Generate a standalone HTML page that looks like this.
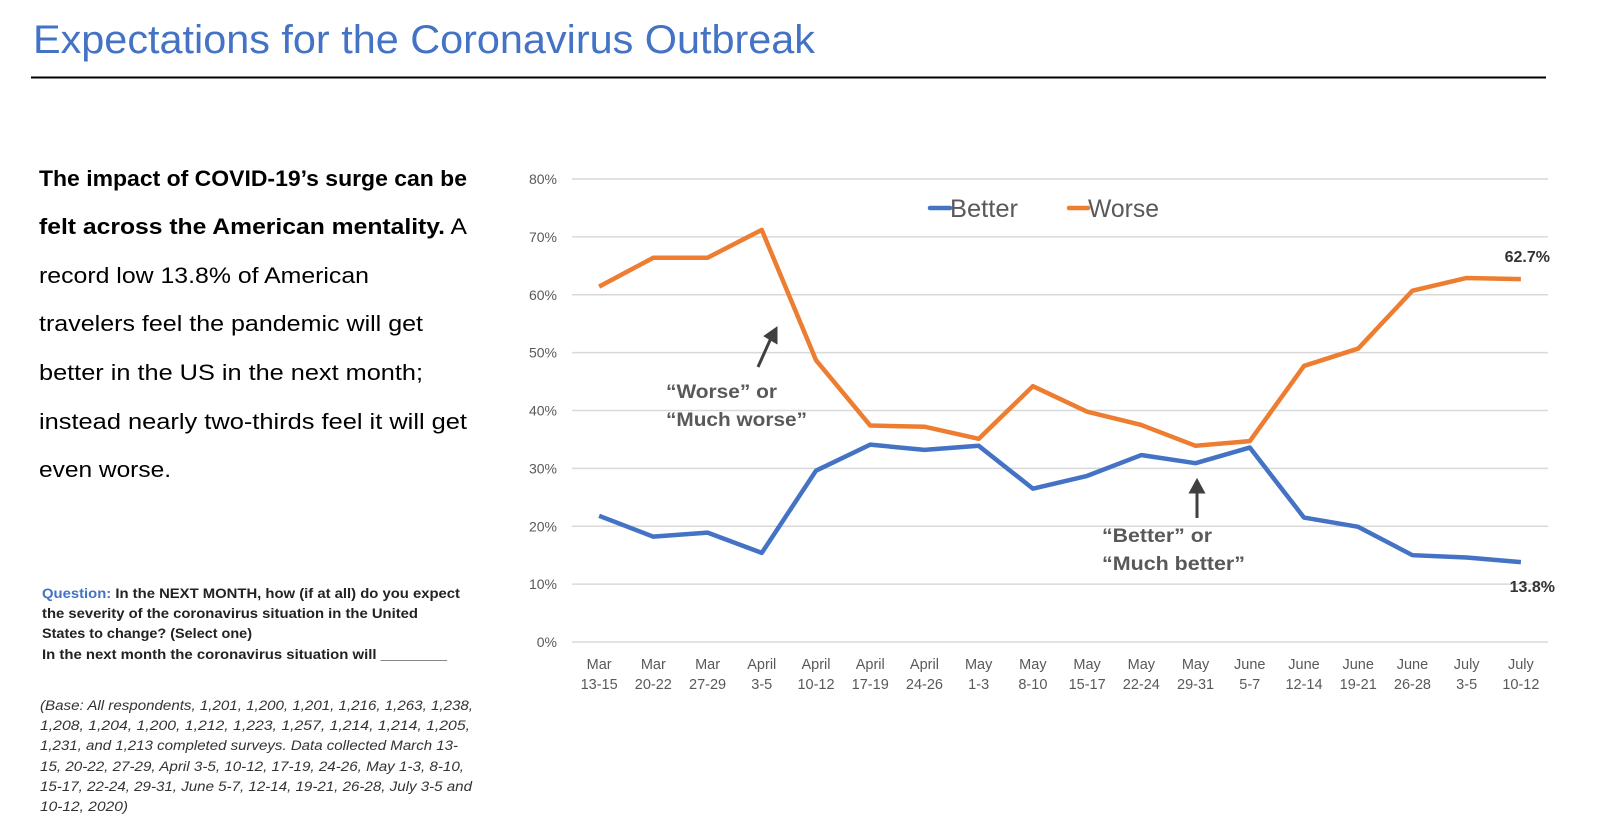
<!DOCTYPE html>
<html><head><meta charset="utf-8"><style>
html,body{margin:0;padding:0;background:#fff;}
svg{display:block;font-family:"Liberation Sans",Calibri,sans-serif;}
</style></head><body>
<svg id="pg" width="1600" height="833" viewBox="0 0 1600 833" xmlns="http://www.w3.org/2000/svg">
<text x="33" y="53" font-size="40" fill="#4472C4" textLength="782" lengthAdjust="spacingAndGlyphs">Expectations for the Coronavirus Outbreak</text>
<line x1="31" y1="77.5" x2="1546" y2="77.5" stroke="#000" stroke-width="2"/>
<g font-size="22" fill="#000">
<text x="39" y="186" font-weight="bold" textLength="428" lengthAdjust="spacingAndGlyphs">The impact of COVID-19’s surge can be</text>
<text x="39" y="234" textLength="428" lengthAdjust="spacingAndGlyphs"><tspan font-weight="bold">felt across the American mentality.</tspan> A</text>
<text x="39" y="283" textLength="330" lengthAdjust="spacingAndGlyphs">record low 13.8% of American</text>
<text x="39" y="331" textLength="384" lengthAdjust="spacingAndGlyphs">travelers feel the pandemic will get</text>
<text x="39" y="380" textLength="384" lengthAdjust="spacingAndGlyphs">better in the US in the next month;</text>
<text x="39" y="429" textLength="428" lengthAdjust="spacingAndGlyphs">instead nearly two-thirds feel it will get</text>
<text x="39" y="477" textLength="132" lengthAdjust="spacingAndGlyphs">even worse.</text>
</g>
<g font-size="14" font-weight="bold" fill="#222">
<text x="42" y="598" textLength="418" lengthAdjust="spacingAndGlyphs"><tspan fill="#4472C4">Question:</tspan> In the NEXT MONTH, how (if at all) do you expect</text>
<text x="42" y="618" textLength="376" lengthAdjust="spacingAndGlyphs">the severity of the coronavirus situation in the United</text>
<text x="42" y="638" textLength="210" lengthAdjust="spacingAndGlyphs">States to change? (Select one)</text>
<text x="42" y="659" textLength="405" lengthAdjust="spacingAndGlyphs">In the next month the coronavirus situation will ________</text>
</g>
<g font-size="13.5" font-style="italic" fill="#333">
<text x="40" y="710" textLength="433" lengthAdjust="spacingAndGlyphs">(Base: All respondents, 1,201, 1,200, 1,201, 1,216, 1,263, 1,238,</text>
<text x="40" y="730" textLength="430" lengthAdjust="spacingAndGlyphs">1,208, 1,204, 1,200, 1,212, 1,223, 1,257, 1,214, 1,214, 1,205,</text>
<text x="40" y="750" textLength="418" lengthAdjust="spacingAndGlyphs">1,231, and 1,213 completed surveys. Data collected March 13-</text>
<text x="40" y="771" textLength="424" lengthAdjust="spacingAndGlyphs">15, 20-22, 27-29, April 3-5, 10-12, 17-19, 24-26, May 1-3, 8-10,</text>
<text x="40" y="791" textLength="432" lengthAdjust="spacingAndGlyphs">15-17, 22-24, 29-31, June 5-7, 12-14, 19-21, 26-28, July 3-5 and</text>
<text x="40" y="811" textLength="88" lengthAdjust="spacingAndGlyphs">10-12, 2020)</text>
</g>
<g id="chart"></g>
</svg>
<script>
const categories1 = ["Mar","Mar","Mar","April","April","April","April","May","May","May","May","May","June","June","June","June","July","July"];
const categories2 = ["13-15","20-22","27-29","3-5","10-12","17-19","24-26","1-3","8-10","15-17","22-24","29-31","5-7","12-14","19-21","26-28","3-5","10-12"];
const betterValues = [21.8,18.2,18.9,15.4,29.6,34.1,33.2,33.9,26.5,28.7,32.3,30.9,33.6,21.5,19.9,15.0,14.6,13.8];
const worseValues = [61.4,66.4,66.4,71.2,48.7,37.4,37.2,35.1,44.2,39.8,37.5,33.9,34.7,47.7,50.7,60.7,62.9,62.7];
const yTicks = [0,10,20,30,40,50,60,70,80];

const NS = "http://www.w3.org/2000/svg";
const g = document.getElementById("chart");
const X0 = 572, X1 = 1548, Y0 = 642, Y80 = 179;
const bw = (X1 - X0) / categories2.length;
function xs(i){ return X0 + bw * (i + 0.5); }
function ys(v){ return Y0 - (v / 80) * (Y0 - Y80); }
function mk(tag, attrs, parent){
  const e = document.createElementNS(NS, tag);
  for (const k in attrs) e.setAttribute(k, attrs[k]);
  (parent || g).appendChild(e);
  return e;
}
yTicks.forEach(t => {
  const l = mk("line", {x1:X0, x2:X1, y1:ys(t), y2:ys(t), stroke:"#d9d9d9", "stroke-width":1.5});
  
  
  const tx = mk("text", {x:557, y:ys(t)+5, "text-anchor":"end", "font-size":14, fill:"#595959"});
  tx.textContent = t + "%";
  
  
});
categories2.forEach((c, i) => {
  const tx = mk("text", {x:xs(i), y:669, "text-anchor":"middle", "font-size":14.5, fill:"#595959"});
  const a = mk("tspan", {x:xs(i)}, tx); a.textContent = categories1[i];
  const b = mk("tspan", {x:xs(i), dy:20}, tx); b.textContent = c;
  
  
});
function series(vals, color, name){
  const p = mk("polyline", {points: vals.map((v,i)=>xs(i)+","+ys(v)).join(" "), fill:"none", stroke:color, "stroke-width":4.5, "stroke-linejoin":"round"});
  
  
}
series(worseValues, "#ED7D31", "worse-line");
series(betterValues, "#4472C4", "better-line");
// legend
const lg1 = mk("line", {x1:930, x2:950, y1:208, y2:208, stroke:"#4472C4", "stroke-width":4.5, "stroke-linecap":"round"});


const lt1 = mk("text", {x:950, y:217, "font-size":25, fill:"#595959", textLength:68, lengthAdjust:"spacingAndGlyphs"}); lt1.textContent = "Better";


const lg2 = mk("line", {x1:1069, x2:1088, y1:208, y2:208, stroke:"#ED7D31", "stroke-width":4.5, "stroke-linecap":"round"});


const lt2 = mk("text", {x:1088, y:217, "font-size":25, fill:"#595959", textLength:71, lengthAdjust:"spacingAndGlyphs"}); lt2.textContent = "Worse";


// end labels
const last = worseValues.length - 1;
const el1 = mk("text", {x:1550, y:ys(worseValues[last])-17, "text-anchor":"end", "font-size":16, "font-weight":"bold", fill:"#333"});
el1.textContent = worseValues[last].toFixed(1) + "%";


const el2 = mk("text", {x:1555, y:ys(betterValues[last])+30, "text-anchor":"end", "font-size":16, "font-weight":"bold", fill:"#333"});
el2.textContent = betterValues[last].toFixed(1) + "%";


// annotations
const a1 = mk("text", {x:666, y:398, "font-size":19, "font-weight":"bold", fill:"#595959", textLength:111, lengthAdjust:"spacingAndGlyphs"});
a1.textContent = "“Worse” or";


const a1b = mk("text", {x:666, y:426, "font-size":19, "font-weight":"bold", fill:"#595959", textLength:141, lengthAdjust:"spacingAndGlyphs"});
a1b.textContent = "“Much worse”";


const a2 = mk("text", {x:1102, y:542, "font-size":19, "font-weight":"bold", fill:"#595959", textLength:110, lengthAdjust:"spacingAndGlyphs"});
a2.textContent = "“Better” or";


const a2b = mk("text", {x:1102, y:570, "font-size":19, "font-weight":"bold", fill:"#595959", textLength:143, lengthAdjust:"spacingAndGlyphs"});
a2b.textContent = "“Much better”";


const ar1 = mk("path", {d:"M758 367 L771 338 M766 336 L776 329 L776 342 Z", stroke:"#404040", "stroke-width":3, fill:"#404040"});


const ar2 = mk("path", {d:"M1197 518 L1197 490 M1191 492 L1197 481 L1203 492 Z", stroke:"#404040", "stroke-width":3, fill:"#404040"});


</script>
</body></html>
